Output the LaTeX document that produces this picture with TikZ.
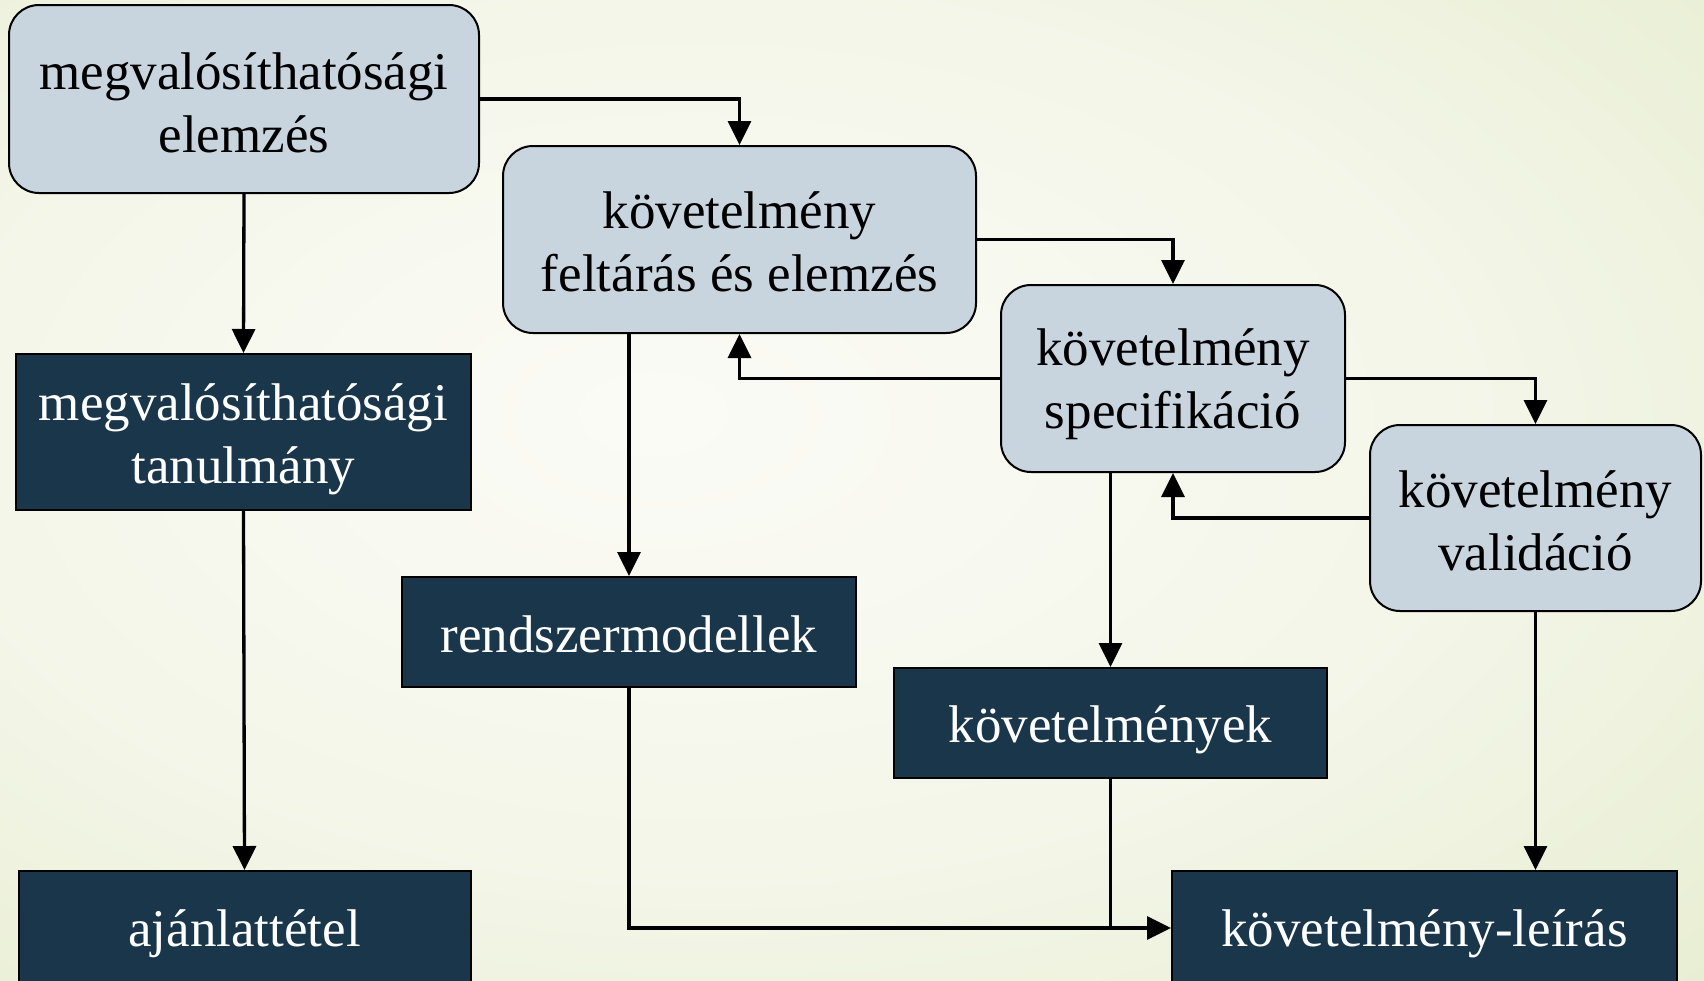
\documentclass[tikz,border=0pt]{standalone}
\usepackage{fontspec}
\setmainfont{Liberation Serif}
\usetikzlibrary{arrows.meta}
\definecolor{bgin}{RGB}{251,251,246}
\definecolor{bgmid}{RGB}{244,246,233}
\definecolor{bgout}{RGB}{226,234,199}
\definecolor{bgcorner}{RGB}{212,224,172}
\definecolor{lightbox}{RGB}{200,213,222}
\definecolor{darkbox}{RGB}{26,54,75}
\pgfdeclareradialshading{bgshade}{\pgfpoint{-6bp}{4bp}}{color(0bp)=(bgin); color(22bp)=(bgmid); color(48bp)=(bgout); color(78bp)=(bgcorner)}
\tikzset{
  txt/.style={font=\fontsize{53}{63}\selectfont, align=center, inner sep=0pt},
  lbox/.style={draw=black, line width=2pt, fill=lightbox, rounded corners=30pt, inner sep=0pt},
  dbox/.style={draw=black, line width=2pt, fill=darkbox, inner sep=0pt},
  ltxt/.style={txt, text=black},
  dtxt/.style={txt, text=white},
  arr/.style={line width=3.3pt, -{Triangle[length=24pt,width=23pt]}},
  plain/.style={line width=3.3pt}
}
\begin{document}
\begin{tikzpicture}[x=1pt,y=-1pt]
\useasboundingbox (0,0) rectangle (1704,980);
\clip (0,0) rectangle (1704,980);
\shade[shading=bgshade] (0,0) rectangle (1704,980);
% light boxes
\node[lbox, minimum width=470pt, minimum height=188pt,
  label={[ltxt,yshift=-3.5pt]center:{megvalósíthatósági\\elemzés}}] (A) at (244,99) {};
\node[lbox, minimum width=473pt, minimum height=187pt,
  label={[ltxt,yshift=-2.5pt]center:{követelmény\\feltárás és elemzés}}] (B) at (739.5,239.5) {};
\node[lbox, minimum width=344pt, minimum height=187pt,
  label={[ltxt,yshift=-6pt]center:{követelmény\\specifikáció}}] (C) at (1173,378.5) {};
\node[lbox, minimum width=331pt, minimum height=186pt,
  label={[ltxt,yshift=-3pt]center:{követelmény\\validáció}}] (D) at (1535.5,518) {};
% dark boxes
\node[dbox, minimum width=455pt, minimum height=156pt,
  label={[dtxt,yshift=-7pt]center:{megvalósíthatósági\\tanulmány}}] (E) at (243.5,432) {};
\node[dbox, minimum width=452pt, minimum height=114pt,
  label={[dtxt,yshift=-5.5pt]center:{ajánlattétel}}] (F) at (244.5,928) {};
\node[dbox, minimum width=454pt, minimum height=110pt,
  label={[dtxt,yshift=-2.5pt]center:{rendszermodellek}}] (G) at (629,632) {};
\node[dbox, minimum width=433pt, minimum height=110pt,
  label={[dtxt,yshift=-6.5pt]center:{követelmények}}] (H) at (1110.5,723) {};
\node[dbox, minimum width=505pt, minimum height=114pt,
  label={[dtxt,yshift=-5.5pt]center:{követelmény-leírás}}] (I) at (1424.5,928) {};
% connectors
\draw[arr] (A.east) -| (B.north);
\draw[arr] (A.south) -- (E.north);
\draw[arr] (E.south) -- (F.north);
\draw[arr] (B.east) -| (C.north);
\draw[arr] (C.west) -| (B.south);
\draw[arr] (B.south -| G.north) -- (G.north);
\draw[arr] (C.east) -| (D.north);
\draw[arr] (D.west) -| (C.south);
\draw[arr] (C.south -| H.north) -- (H.north);
\draw[arr] (D.south) -- (D.south |- I.north);
\draw[arr] (G.south) |- (I.west);
\draw[plain] (H.south) -- (H.south |- I.west);
\end{tikzpicture}
\end{document}
